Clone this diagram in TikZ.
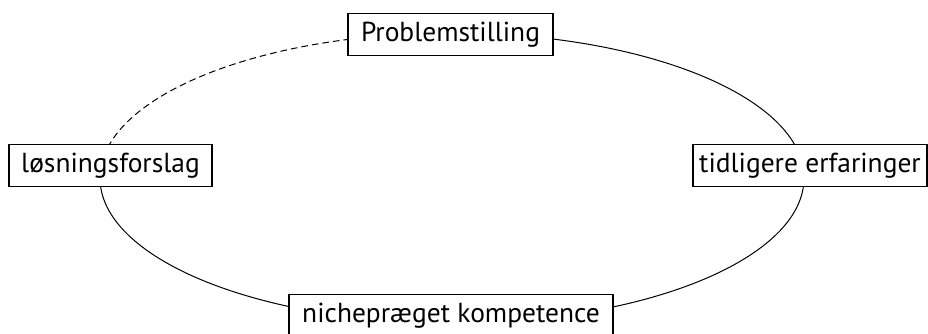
\documentclass[tikz,border=0pt]{standalone}
\usepackage{fontspec}
\setmainfont{PT Sans}
\usetikzlibrary{backgrounds}
\tikzset{
  box/.style={draw=black, line width=0.8pt, fill=white, inner sep=0pt,
    minimum height=31pt, font=\fontsize{20.6}{24}\selectfont},
  ring/.style={line width=0.75pt},
  ringdash/.style={line width=0.75pt, dash pattern=on 5pt off 3pt}
}
\begin{document}
\begin{tikzpicture}[x=0.75pt,y=-0.75pt]
\useasboundingbox (0,0) rectangle (928,334);
\node[box, minimum width=153.75pt] (P) at (450.5,34.5) {Problemstilling};
\node[box, minimum width=152.25pt] (L) at (110.5,165.5) {løsningsforslag};
\node[box, minimum width=175.5pt] (T) at (810,165.5) {tidligere erfaringer};
\node[box, minimum width=243pt] (N) at (451,315.5) {nichepræget kompetence};
\coordinate (eT) at (452,33);
\coordinate (eR) at (804,178);
\coordinate (eB) at (452,323);
\coordinate (eL) at (100,178);
\begin{pgfonlayer}{background}
\draw[ring] (eT) .. controls (646.4,33) and (804,97.9) .. (eR);
\draw[ring] (eR) .. controls (804,258.1) and (646.4,323) .. (eB);
\draw[ring] (eB) .. controls (257.6,323) and (100,258.1) .. (eL);
\draw[ringdash] (eL) .. controls (100,97.9) and (257.6,33) .. (eT);
\end{pgfonlayer}
\end{tikzpicture}
\end{document}
